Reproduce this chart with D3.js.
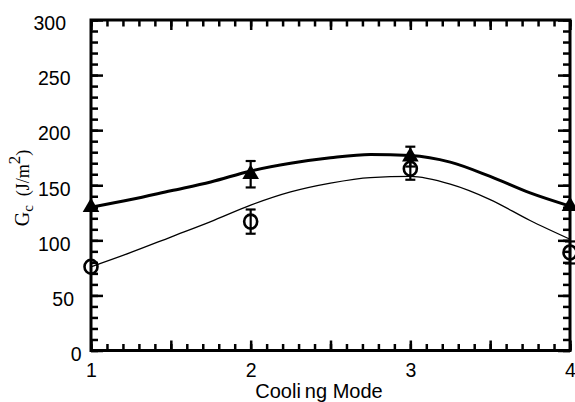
<!DOCTYPE html>
<html><head><meta charset="utf-8">
<script src="https://cdn.jsdelivr.net/npm/d3@7"></script>
<style>body{margin:0;background:#fff} svg{display:block}</style>
</head><body><svg id="c" width="575" height="402"></svg>
<script>
// ---- data ----
const modes = [1, 2, 3, 4];
const triMean = [130, 160, 176, 131];
const triErr = [0, 12, 9, 0];
const circMean = [76, 117, 165, 89];
const circErr = [0, 11, 10, 10];
const fitX = [1, 1.25, 1.5, 1.75, 2, 2.25, 2.5, 2.75, 3, 3.25, 3.5, 3.75, 4];
const triFit = [130, 137, 145, 153, 163, 170, 175, 178, 177, 171, 158, 143, 131];
const circFit = [76, 89, 103, 117, 132, 144, 152, 157, 158, 151, 137, 118, 101];
const xTicks = [1, 2, 3, 4];
const yTicks = [0, 50, 100, 150, 200, 250, 300];

const svg = d3.select("#c");
const L = 91, R = 570, T = 20, B = 350.5;
const x = d3.scaleLinear().domain([1, 4]).range([L, R]);
const y = d3.scaleLinear().domain([0, 300]).range([B, T]);
const font = "'Liberation Sans', Arial, sans-serif";

const xMinor = d3.range(10, 41).map(d => d / 10);
const xMid = d3.range(2, 9).map(d => d / 2);
const yMinor = d3.range(0, 31).map(d => d * 10);
// label nudges seen in the original layout
const yLabelNudge = { 0: 11, 50: 3.5, 300: -4.5 };

function styleAxis(g) {
  g.select(".domain").remove();
  g.selectAll(".tick line").attr("stroke", "#000").attr("stroke-width", 2.5);
  g.selectAll("text").attr("font-family", font).attr("font-size", 19.5).attr("fill", "#000");
}
// bottom
svg.append("g").attr("transform", `translate(0,${B})`)
  .call(d3.axisBottom(x).tickValues(xMinor).tickSize(-6.5).tickFormat("")).call(styleAxis);
svg.append("g").attr("transform", `translate(0,${B})`)
  .call(d3.axisBottom(x).tickValues(xMid).tickSize(-10).tickFormat("")).call(styleAxis);
svg.append("g").attr("transform", `translate(0,${B})`)
  .call(d3.axisBottom(x).tickValues(xTicks).tickSize(0).tickPadding(13).tickFormat(d3.format("d"))).call(styleAxis);
// top
svg.append("g").attr("transform", `translate(0,${T})`)
  .call(d3.axisTop(x).tickValues(xMinor).tickSize(-6.5).tickFormat("")).call(styleAxis);
svg.append("g").attr("transform", `translate(0,${T})`)
  .call(d3.axisTop(x).tickValues(xMid).tickSize(-10).tickFormat("")).call(styleAxis);
// left
svg.append("g").attr("transform", `translate(${L},0)`)
  .call(d3.axisLeft(y).tickValues(yMinor).tickSize(-7).tickFormat("")).call(styleAxis);
svg.append("g").attr("transform", `translate(${L},0)`)
  .call(d3.axisLeft(y).tickValues(yTicks).tickSize(-12).tickPadding(20.5).tickFormat(d3.format("d"))).call(styleAxis)
  .selectAll("text").attr("dy", "0.5em").attr("dx", d => yLabelNudge[d] || 0);
// right
svg.append("g").attr("transform", `translate(${R},0)`)
  .call(d3.axisRight(y).tickValues(yMinor).tickSize(-7).tickFormat("")).call(styleAxis);
svg.append("g").attr("transform", `translate(${R},0)`)
  .call(d3.axisRight(y).tickValues(yTicks).tickSize(-12).tickFormat("")).call(styleAxis);

// frame
svg.append("rect").attr("x", L).attr("y", T).attr("width", R - L).attr("height", B - T)
  .attr("fill", "none").attr("stroke", "#000").attr("stroke-width", 3);

// fit lines
const line = d3.line().curve(d3.curveMonotoneX).x((d, i) => x(fitX[i])).y(d => y(d));
svg.append("path").datum(triFit).attr("d", line).attr("fill", "none").attr("stroke", "#000").attr("stroke-width", 3);
svg.append("path").datum(circFit).attr("d", line).attr("fill", "none").attr("stroke", "#000").attr("stroke-width", 1.3);

// error bars
function errBars(means, errs) {
  const g = svg.append("g").attr("stroke", "#000").attr("stroke-width", 2.2);
  modes.forEach((m, i) => {
    if (!errs[i]) return;
    const cx = x(m), y1 = y(means[i] - errs[i]), y2 = y(means[i] + errs[i]);
    g.append("line").attr("x1", cx).attr("x2", cx).attr("y1", y1).attr("y2", y2);
    g.append("line").attr("x1", cx - 5).attr("x2", cx + 5).attr("y1", y1).attr("y2", y1);
    g.append("line").attr("x1", cx - 5).attr("x2", cx + 5).attr("y1", y2).attr("y2", y2);
  });
}
errBars(circMean, circErr);
errBars(triMean, triErr);

// markers
svg.append("g").selectAll("ellipse").data(circMean).join("ellipse")
  .attr("cx", (d, i) => x(modes[i])).attr("cy", d => y(d)).attr("rx", 6.5).attr("ry", 7)
  .attr("fill", "none").attr("stroke", "#000").attr("stroke-width", 2.6);
const tri = d3.symbol().type(d3.symbolTriangle).size(120);
svg.append("g").selectAll("path").data(triMean).join("path")
  .attr("d", tri).attr("transform", (d, i) => `translate(${x(modes[i])},${y(d)})`).attr("fill", "#000");

// axis titles
const xt = svg.append("text").attr("x", 319).attr("y", 398).attr("text-anchor", "middle")
  .attr("font-family", font).attr("font-size", 20).attr("fill", "#000");
xt.append("tspan").text("Cooli");
xt.append("tspan").attr("dx", 4).text("ng Mode");

const yt = svg.append("text").attr("transform", "translate(29,188) rotate(-90)").attr("text-anchor", "middle")
  .attr("font-family", "'Liberation Serif', 'Times New Roman', serif").attr("fill", "#000");
yt.append("tspan").attr("font-size", 20).text("G");
yt.append("tspan").attr("font-size", 15).attr("dy", 4).text("c");
yt.append("tspan").attr("font-size", 18).attr("dy", -4).attr("dx", 9).text("(J/m");
yt.append("tspan").attr("font-size", 17).attr("dy", -9).text("2");
yt.append("tspan").attr("font-size", 18).attr("dy", 9).text(")");
</script></body></html>
